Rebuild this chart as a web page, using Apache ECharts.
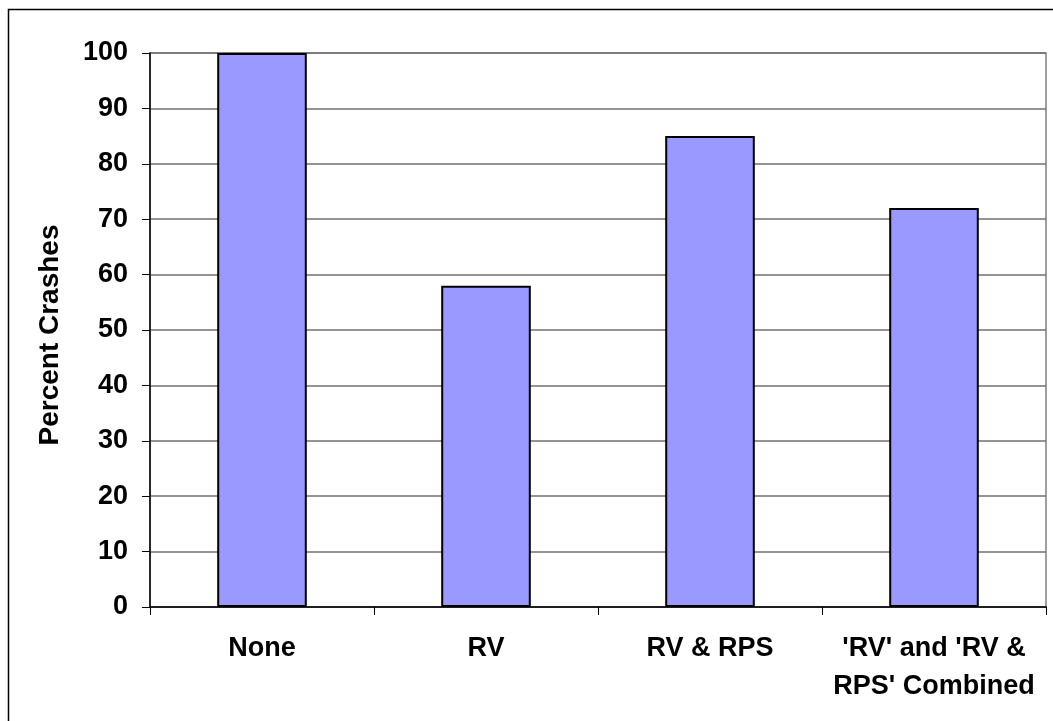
<!DOCTYPE html>
<html>
<head>
<meta charset="utf-8">
<script src="https://cdn.jsdelivr.net/npm/echarts@6/dist/echarts.min.js"></script>
<style>
  html, body { margin: 0; padding: 0; background: #fff; }
  #chart { width: 1053px; height: 721px; }
</style>
</head>
<body>
<div id="chart"></div>
<script>
// data
const categories = ['None', 'RV', 'RV & RPS', "'RV' and 'RV &\nRPS' Combined"]
const percentCrashes = [100, 58, 85, 72]
const yMin = 0
const yMax = 100
const yStep = 10

const FONT = "'Liberation Sans', Arial, sans-serif"

const chart = echarts.init(document.getElementById('chart'), null, { renderer: 'canvas' })

chart.setOption({
  animation: false,
  backgroundColor: '#fff',
  graphic: [
    {
      type: 'rect',
      shape: { x: 8.5, y: 9.5, width: 1100, height: 800 },
      style: { fill: 'none', stroke: '#000', lineWidth: 1.5 },
      silent: true
    }
  ],
  grid: {
    left: 150,
    right: 7,
    top: 53,
    bottom: 114,
    show: true,
    borderColor: '#808080',
    borderWidth: 1.5
  },
  xAxis: {
    type: 'category',
    data: categories,
    axisLine: { lineStyle: { color: '#000', width: 1.5 } },
    axisTick: { show: true, length: 8, lineStyle: { color: '#000' } },
    axisLabel: {
      interval: 0,
      margin: 23,
      color: '#000',
      fontFamily: FONT,
      fontWeight: 'bold',
      fontSize: 27,
      lineHeight: 38
    }
  },
  yAxis: {
    type: 'value',
    min: yMin,
    max: yMax,
    interval: yStep,
    name: 'Percent Crashes',
    nameLocation: 'middle',
    nameGap: 86,
    nameTextStyle: {
      color: '#000',
      fontFamily: FONT,
      fontWeight: 'bold',
      fontSize: 28,
      padding: [0, 10, 0, 0]
    },
    axisLine: { show: true, lineStyle: { color: '#000', width: 1.5 } },
    axisTick: { show: true, length: 8, lineStyle: { color: '#000' } },
    splitLine: { lineStyle: { color: '#707070', width: 1.5 } },
    axisLabel: {
      margin: 22,
      color: '#000',
      fontFamily: FONT,
      fontWeight: 'bold',
      fontSize: 27
    }
  },
  series: [
    {
      type: 'bar',
      data: percentCrashes,
      barWidth: '40%',
      itemStyle: {
        color: '#9999FF',
        borderColor: '#000',
        borderWidth: 2
      }
    }
  ]
})
</script>
</body>
</html>
